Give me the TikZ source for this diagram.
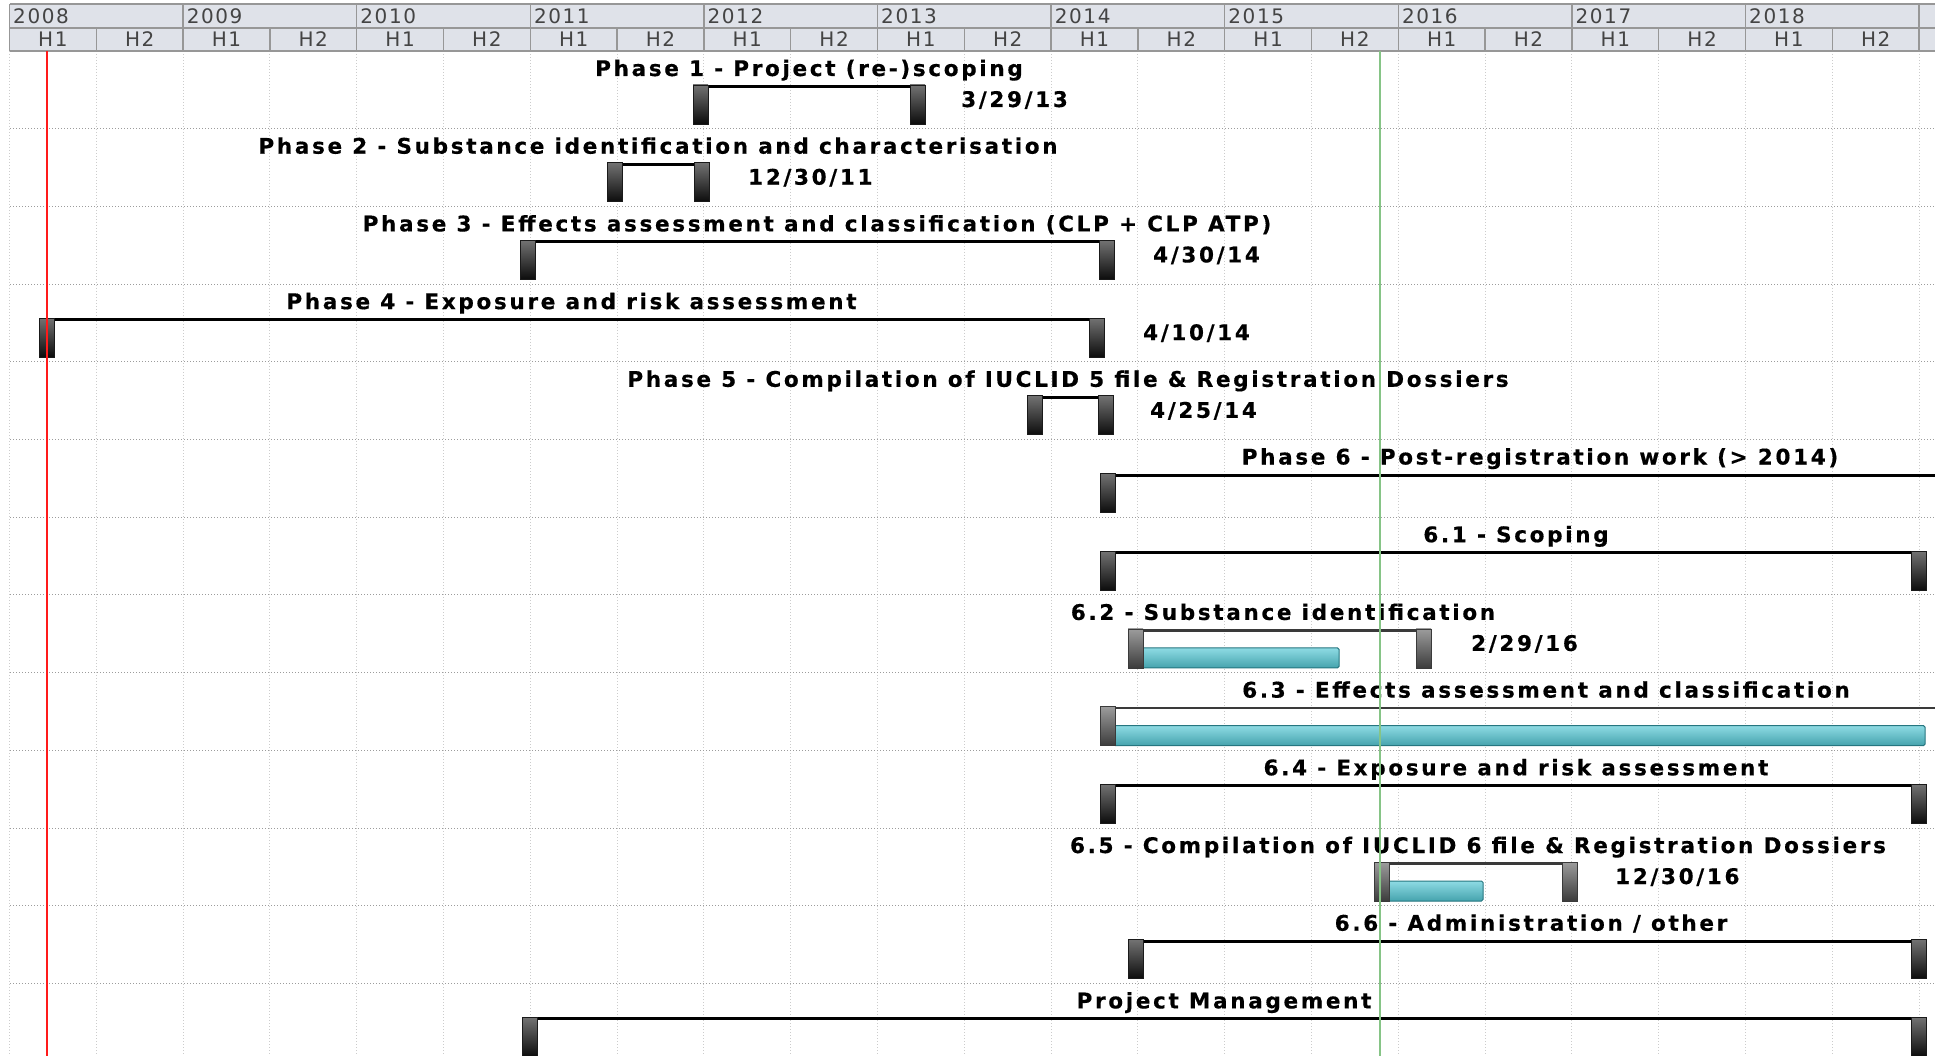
\documentclass[tikz,border=0pt]{standalone}
\usepackage{fontspec}
\setmainfont{DejaVu Sans}
\newfontfamily\barfont{DejaVu Sans}[LetterSpace=12.5, FakeBold=0.5]
\newfontfamily\headfont{DejaVu Sans}[LetterSpace=8]
\usepackage{xcolor}
\usepackage{tikz}
\definecolor{gInk}{HTML}{000000}
\definecolor{gHead}{HTML}{DFE2E9}
\definecolor{gHeadLine}{HTML}{979797}
\definecolor{gHeadInk}{HTML}{444444}
\definecolor{gGrid}{HTML}{CCCCCC}
\definecolor{gRow}{HTML}{9C9C9C}
\definecolor{gCapTop}{HTML}{727272}
\definecolor{gCapBot}{HTML}{0C0C0C}
\definecolor{gCapEdge}{HTML}{1A1A1A}
\definecolor{gTaskTop}{HTML}{9C9C9C}
\definecolor{gTaskBot}{HTML}{3C3C3C}
\definecolor{gTaskEdge}{HTML}{3A3A3A}
\definecolor{gCyTop}{HTML}{8EDBE4}
\definecolor{gCyBot}{HTML}{45A3AD}
\definecolor{gCyLine}{HTML}{267680}
\definecolor{gToday}{HTML}{FF1A1A}
\definecolor{gStatus}{HTML}{86C486}
\tikzset{
  capdark/.style={top color=gCapTop, bottom color=gCapBot, draw=gCapEdge, line width=0.8pt},
  caplight/.style={top color=gTaskTop, bottom color=gTaskBot, draw=gTaskEdge, line width=0.8pt},
  barline/.style={draw=gInk, line width=3pt},
  taskline/.style={draw=gTaskEdge, line width=2.5pt},
  cyanbar/.style={top color=gCyTop, bottom color=gCyBot, draw=gCyLine, line width=1pt, rounded corners=1.5pt},
  lbl/.style={font=\barfont\bfseries\fontsize{21.5}{23}\selectfont, text=gInk, inner sep=0pt, anchor=base},
  dt/.style={lbl, anchor=base west},
  hd/.style={font=\headfont\fontsize{20}{21}\selectfont, text=gHeadInk, inner sep=0pt, anchor=base}
}
% row top, left end, right end
\newcommand\sumbar[3]{%
  \draw[barline] (#2,#1+35.5) -- (#3,#1+35.5);
  \shade[capdark] (#2,#1+34) rectangle ++(15,39);
  \shade[capdark] (#3-15,#1+34) rectangle ++(15,39);}
% row top, left end, right end, end of progress
\newcommand\taskbar[4]{%
  \draw[taskline] (#2,#1+35.5) -- (#3,#1+35.5);
  \shade[cyanbar] (#2+14,#1+53) rectangle (#4,#1+73);
  \shade[caplight] (#2,#1+34) rectangle ++(15,39);
  \shade[caplight] (#3-15,#1+34) rectangle ++(15,39);}

\begin{document}
\begin{tikzpicture}[x=1pt, y=-1pt]
  \useasboundingbox (0,0) rectangle (1935,1056);
  \clip (0,0) rectangle (1935,1056);
  % grid
  \foreach \k in {0,...,22}
    \draw[gGrid, dotted, line width=1pt] (9.5+86.8*\k,51) -- (9.5+86.8*\k,1056);
  \foreach \i in {1,...,12}
    \draw[gRow, dotted, line width=1pt] (10,51+77.7*\i) -- (1935,51+77.7*\i);
  % timescale
  \fill[gHead] (10,4) rectangle (1935,51);
  \draw[gHeadLine, line width=1.5pt] (10,4) -- (1935,4) (10,28) -- (1935,28) (10,51) -- (1935,51);
  \foreach \k in {0,...,11}
    \draw[gHeadLine, line width=1.5pt] (9.5+173.6*\k,4) -- (9.5+173.6*\k,51);
  \foreach \k in {0,...,10}
    \draw[gHeadLine, line width=1.5pt] (96.3+173.6*\k,28) -- (96.3+173.6*\k,51);
  \foreach \yr [count=\k from 0] in {2008,...,2018} {
    \node[hd, anchor=base west] (y\yr) at (13+173.6*\k,23.5) {\yr};
    \node[hd] (a\yr) at (52.9+173.6*\k,46.5) {H1};
    \node[hd] (b\yr) at (139.7+173.6*\k,46.5) {H2};
  }
  % phases
  \sumbar{51}{693}{925}
  \node[lbl] (p1) at (809,76) {Phase 1 - Project (re-)scoping};
  \node[dt] (d1) at (961,107) {3/29/13};
  \sumbar{128.7}{607}{709}
  \node[lbl] (p2) at (658,153.7) {Phase 2 - Substance identification and characterisation};
  \node[dt] (d2) at (748,184.7) {12/30/11};
  \sumbar{206.4}{520}{1114}
  \node[lbl] (p3) at (817,231.4) {Phase 3 - Effects assessment and classification (CLP + CLP ATP)};
  \node[dt] (d3) at (1153,262.4) {4/30/14};
  \sumbar{284.1}{39}{1104}
  \node[lbl] (p4) at (571.5,309.1) {Phase 4 - Exposure and risk assessment};
  \node[dt] (d4) at (1143,340.1) {4/10/14};
  \sumbar{361.8}{1027}{1113}
  \node[lbl] (p5) at (1068,386.8) {Phase 5 - Compilation of IUCLID 5 file \& Registration Dossiers};
  \node[dt] (d5) at (1150,417.8) {4/25/14};
  \sumbar{439.5}{1100}{1990}
  \node[lbl] (p6) at (1540,464.5) {Phase 6 - Post-registration work (> 2014)};
  % sub-tasks of phase 6
  \sumbar{517.2}{1100}{1926}
  \node[lbl] (t61) at (1516,542.2) {6.1 - Scoping};
  \taskbar{594.9}{1128}{1431}{1339}
  \node[lbl] (t62) at (1283,619.9) {6.2 - Substance identification};
  \node[dt] (d62) at (1471,650.9) {2/29/16};
  \taskbar{672.6}{1100}{1990}{1925}
  \node[lbl] (t63) at (1546,697.6) {6.3 - Effects assessment and classification};
  \sumbar{750.3}{1100}{1926}
  \node[lbl] (t64) at (1516,775.3) {6.4 - Exposure and risk assessment};
  \taskbar{828}{1374}{1577}{1483}
  \node[lbl] (t65) at (1478,853) {6.5 - Compilation of IUCLID 6 file \& Registration Dossiers};
  \node[dt] (d65) at (1615,884) {12/30/16};
  \sumbar{905.7}{1128}{1926}
  \node[lbl] (t66) at (1531,930.7) {6.6 - Administration / other};
  \sumbar{983.4}{522}{1926}
  \node[lbl] (pm) at (1224,1008.4) {Project Management};
  % today and status date
  \draw[gToday, line width=2pt] (47,51) -- (47,1056);
  \draw[gStatus, line width=1.5pt] (1380,51) -- (1380,1056);
\end{tikzpicture}
\end{document}
